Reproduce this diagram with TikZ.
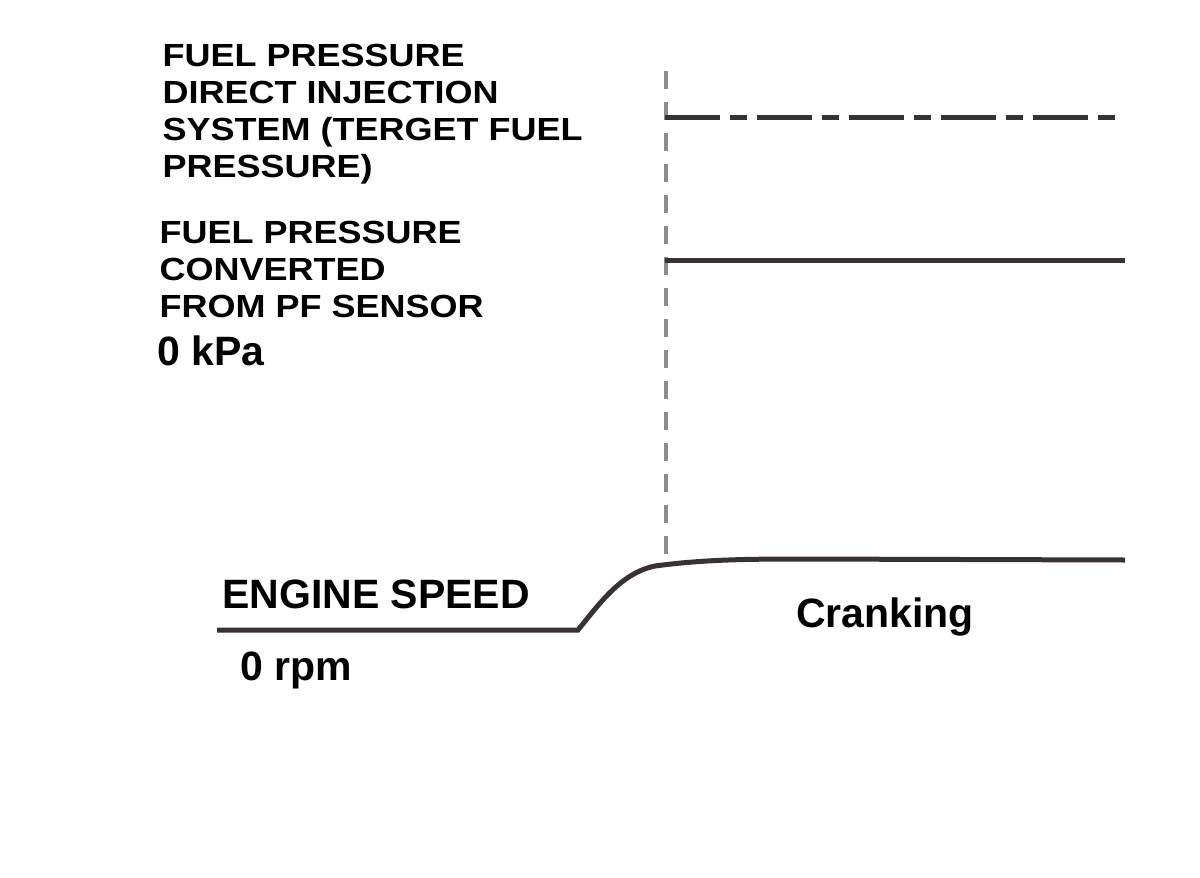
\documentclass[tikz,border=0pt]{standalone}
\usepackage{fontspec}
\setmainfont{Liberation Sans}
\newfontfamily\widefont[FakeStretch=1.125]{Liberation Sans}
\definecolor{tracecol}{RGB}{58,50,50}
\definecolor{markcol}{RGB}{140,140,140}
\begin{document}
\begin{tikzpicture}[x=1pt,y=-1pt,
  blocklabel/.style={anchor=base west, inner sep=0pt, align=left,
    font=\widefont\bfseries\fontsize{32}{36.7}\selectfont},
  biglabel/.style={anchor=base west, inner sep=0pt,
    font=\bfseries\fontsize{41}{45}\selectfont},
  trace/.style={draw=tracecol, line width=5pt},
  targettrace/.style={draw=tracecol, line width=5pt,
    dash pattern=on 55pt off 10pt on 17pt off 10pt},
  marker/.style={draw=markcol, line width=3.5pt,
    dash pattern=on 18pt off 13pt}
]
\fill[white] (0,0) rectangle (1200,878);
\useasboundingbox (0,0) rectangle (1200,878);

% texts (anchor = baseline of the last line)
\node[blocklabel] (target) at (162.5,177)
  {FUEL PRESSURE\\DIRECT INJECTION\\SYSTEM (TERGET FUEL\\PRESSURE)};
\node[blocklabel] (sensor) at (159.5,317)
  {FUEL PRESSURE\\CONVERTED\\FROM PF SENSOR};
\node[biglabel] (kpa) at (157.5,365) {0 kPa};
\node[biglabel] (engine) at (222,608) {ENGINE SPEED};
\node[biglabel] (rpm) at (240.5,680) {0 rpm};
\node[biglabel] (crank) at (796,627) {Cranking};

% coordinates
\coordinate (mTop) at (666,71);
\coordinate (mBot) at (666,554);
\coordinate (tS) at (665,117);
\coordinate (tE) at (1118,117);
\coordinate (sS) at (665,260);
\coordinate (sE) at (1125,260);
\coordinate (e0) at (217,630);
\coordinate (e1) at (578,630);
\coordinate (e2) at (655,566);
\coordinate (e3) at (800,559);
\coordinate (e4) at (1125,560);

% start marker
\draw[marker] (mTop) -- (mBot);

% traces
\draw[targettrace] (tS) -- (tE);
\draw[trace] (sS) -- (sE);
\draw[trace] (e0) -- (e1) .. controls (597,607) and (620,573) .. (e2)
  .. controls (700,560) and (740,559) .. (e3) -- (e4);
\end{tikzpicture}
\end{document}
